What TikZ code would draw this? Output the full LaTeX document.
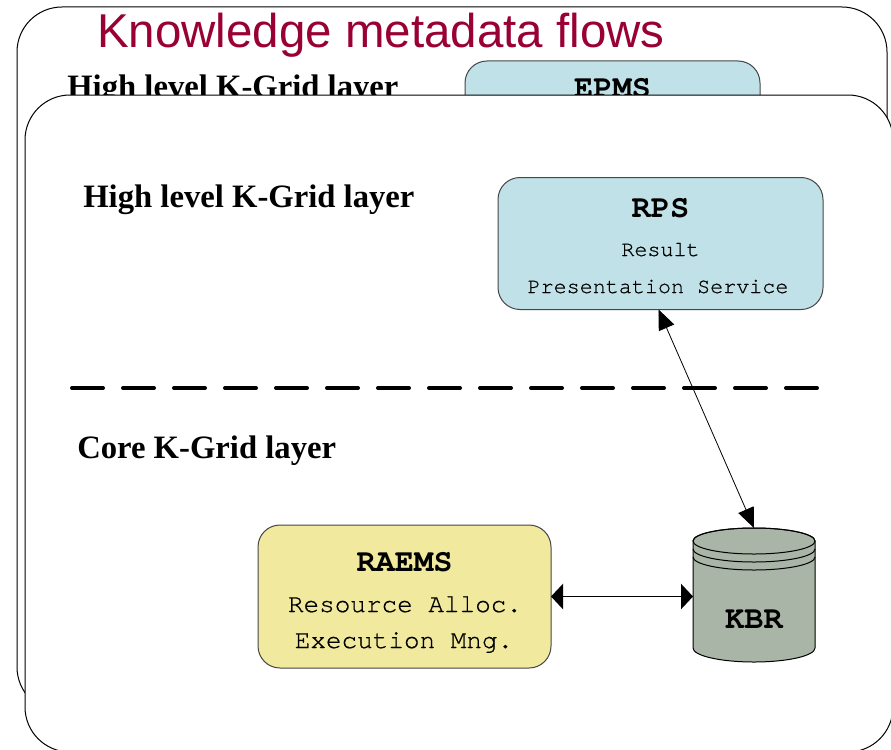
\documentclass[tikz,border=0pt]{standalone}
\usepackage{fontspec}
\setmainfont{Liberation Serif}
\setsansfont{Liberation Sans}
\setmonofont{TeX Gyre Cursor}
\newfontfamily\monolabel[FakeBold=0.6]{TeX Gyre Cursor}
\usetikzlibrary{arrows.meta,calc}

\definecolor{titlered}{RGB}{153,0,51}
\definecolor{svcblue}{RGB}{192,225,231}
\definecolor{svcyellow}{RGB}{240,233,158}
\definecolor{kbrgray}{RGB}{169,181,166}
\definecolor{boxline}{RGB}{70,70,70}

\begin{document}
\begin{tikzpicture}[x=0.75pt,y=-0.75pt,
  panel/.style={draw=black, line width=0.75pt, fill=white, rounded corners=33.75pt,
                inner sep=0pt, outer sep=0pt},
  svcbox/.style={draw=boxline, line width=0.75pt, rounded corners=16.5pt,
                 inner sep=0pt, outer sep=0pt},
  titletext/.style={font=\sffamily\fontsize{35.6}{40}\selectfont, text=titlered,
                    inner sep=0pt, anchor=base west},
  layertext/.style={font=\bfseries\fontsize{24.5}{28}\selectfont,
                    inner sep=0pt, anchor=base west},
  svcname/.style={font=\ttfamily\bfseries\fontsize{24}{28}\selectfont,
                  inner sep=0pt, anchor=base},
  svcsmall/.style={font=\monolabel\fontsize{16.3}{20}\selectfont,
                   inner sep=0pt, anchor=base},
  svcmid/.style={font=\monolabel\fontsize{19.5}{22}\selectfont,
                 inner sep=0pt, anchor=base},
  sepline/.style={line width=3pt, line cap=round, dash pattern=on 23.25pt off 15pt},
  thinlink/.style={line width=0.6pt, {Triangle[length=15pt,width=12.5pt]}-{Triangle[length=15pt,width=12.5pt]}},
  widelink/.style={line width=1pt, {Triangle[length=9pt,width=19pt]}-{Triangle[length=9pt,width=19pt]}}
]
\useasboundingbox (0,0) rectangle (891,749);
\clip (0,0) rectangle (891,749);

% ---- slide behind ----
\node[panel, minimum width=652.5pt, minimum height=528.75pt] (backpanel) at (452,359.5) {};
\node[titletext] (title) at (97,48) {Knowledge metadata flows};
\node[layertext] (highback) at (67,97) {High level K-Grid layer};
\node[svcbox, fill=svcblue, minimum width=221.25pt, minimum height=99pt] (epms) at (612.5,127) {};
\node[svcname] (epmsname) at (612.5,97) {EPMS};

% ---- slide in front ----
\node[panel, minimum width=651pt, minimum height=492.75pt] (frontpanel) at (459,423.5) {};

\node[layertext] (high) at (83,207) {High level K-Grid layer};
\node[layertext] (core) at (77,458) {Core K-Grid layer};

% layer separator
\coordinate (sepL) at (72,388);
\coordinate (sepR) at (821,388);
\draw[sepline] (sepL) -- (sepR);

% result presentation service
\node[svcbox, fill=svcblue, minimum width=243.75pt, minimum height=99pt] (rps) at (660.5,243.5) {};
\node[svcname] (rpsname) at (660.5,217) {RPS};
\node[svcsmall] (rpsl1) at (660.5,256) {Result};
\node[svcsmall] (rpsl2) at (658,293) {Presentation Service};

% resource allocation and execution management
\node[svcbox, fill=svcyellow, minimum width=219.75pt, minimum height=107.25pt] (raems) at (404.5,596.5) {};
\node[svcname] (raemsname) at (404.5,571) {RAEMS};
\node[svcmid] (raemsl1) at (405,612) {Resource Alloc.};
\node[svcmid] (raemsl2) at (404,648) {Execution Mng.};

% knowledge base repository (cylinder)
\filldraw[fill=kbrgray, draw=black, line width=0.75pt]
  (693,541) -- (693,648) arc (180:360:45.75pt and 10.5pt) -- (815,541)
  arc (0:180:45.75pt and 9.75pt) -- cycle;
\draw[line width=0.75pt] (754,541) ellipse (45.75pt and 9.75pt);
\draw[line width=0.75pt] (693,549) arc (180:360:45.75pt and 9.75pt);
\draw[line width=0.75pt] (693,557) arc (180:360:45.75pt and 9.75pt);
\node[inner sep=0pt, outer sep=0pt, minimum width=91.5pt, minimum height=80.25pt] (kbr) at (754,594.5) {};
\coordinate (kbrtop) at (754,528);
\node[svcname] (kbrname) at (754,628) {KBR};

% metadata flows
\draw[thinlink] ($(rps.south)+(-2,0)$) -- (kbrtop);
\draw[widelink] (raems.east) -- (raems.east -| kbr.west);
\end{tikzpicture}
\end{document}
